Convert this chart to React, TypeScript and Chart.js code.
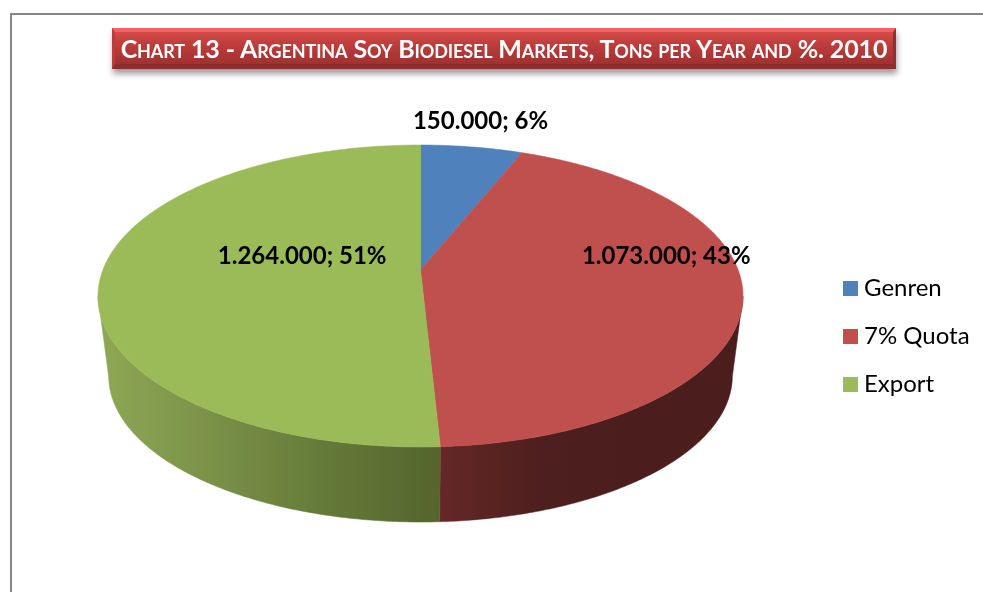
import React, { useEffect, useRef } from "react";
import { Chart, registerables } from "chart.js";

Chart.register(...registerables);

const categories = ["Genren", "7% Quota", "Export"];
const tons = [150000, 1073000, 1264000];
const sliceColors = ["#4F81BD", "#C0504D", "#9BBB59"];
const titleText = "Chart 13 - Argentina Soy Biodiesel Markets, Tons per Year and %. 2010";

// Side-wall shading, left to right, for each slice (blue is never visible from the front).
const wallStops: string[][] = [
  ["#3B618E", "#3B618E"],
  ["#652826", "#4D1F1E", "#4B1E1D", "#4B1E1D"],
  ["#8EA855", "#7A9148", "#647A39", "#55652D"],
];
// Where each value label sits, relative to the pie centre, as a share of the pie's radii.
const labelOffsets = [
  { x: 0.186, y: -1.159 },
  { x: 0.762, y: -0.265 },
  { x: -0.367, y: -0.265 },
];

const HUB_SHIFT = -26;
const WALL_DROP = 80;
const WALL_SCALE = 0.967;
const FONT = "Lato, Carlito, Calibri, sans-serif";

function geometry(chart: any, el: any) {
  const ry = el.outerRadius;
  const rx = chart.chartArea.width / 2;
  const above = ry + HUB_SHIFT;
  const below = ry - HUB_SHIFT;
  const c = (above - below) / (above + below);
  const b = above * (1 - c);
  const a = rx * Math.sqrt(1 - c * c);
  const hubX = el.x;
  const hubY = el.y + HUB_SHIFT;
  const project = (angle: number) => {
    const u = Math.cos(angle);
    const v = Math.sin(angle);
    const w = 1 + c * v;
    return { x: hubX + (a * u) / w, y: hubY + (b * v) / w };
  };
  const lower = (p: { x: number; y: number }) => ({
    x: el.x + (p.x - el.x) * WALL_SCALE,
    y: el.y + WALL_DROP + (p.y - el.y) * WALL_SCALE,
  });
  return { hubX, hubY, rx, ry, project, lower };
}

function sweep(start: number, end: number) {
  const out: number[] = [];
  const n = Math.max(2, Math.ceil((end - start) / 0.01));
  for (let i = 0; i <= n; i++) out.push(start + ((end - start) * i) / n);
  return out;
}

const pie3d = {
  id: "pie3d",
  beforeDatasetsDraw(chart: any) {
    const ctx = chart.ctx as CanvasRenderingContext2D;
    const arcs = chart.getDatasetMeta(0).data as any[];
    if (!arcs.length) return;
    const g0 = geometry(chart, arcs[0]);
    // Front-facing part of the rim: from the right silhouette round to the left one.
    const frontStart = Math.asin(0.175);
    const frontEnd = Math.PI - frontStart;
    arcs.forEach((el, i) => {
      const s = Math.max(el.startAngle, frontStart);
      const e = Math.min(el.endAngle, frontEnd);
      if (e > s) {
        const top = sweep(s, e).map(g0.project);
        const bottom = top.map(g0.lower);
        const xs = [...top, ...bottom].map((p) => p.x);
        const left = Math.min(...xs);
        const right = Math.max(...xs);
        const grad = ctx.createLinearGradient(left, 0, right, 0);
        const stops = wallStops[i];
        stops.forEach((col, k) => grad.addColorStop(k / (stops.length - 1), col));
        ctx.save();
        ctx.fillStyle = grad;
        ctx.strokeStyle = grad;
        ctx.lineWidth = 0.5;
        ctx.beginPath();
        top.forEach((p, k) => (k ? ctx.lineTo(p.x, p.y) : ctx.moveTo(p.x, p.y)));
        bottom.reverse().forEach((p) => ctx.lineTo(p.x, p.y));
        ctx.closePath();
        ctx.fill();
        ctx.stroke();
        ctx.restore();
      }
      // Each slice's top face is drawn by the element itself, in perspective.
      el.draw = function (c: CanvasRenderingContext2D) {
        const g = geometry(chart, this);
        const color = this.options.backgroundColor;
        c.save();
        c.fillStyle = color;
        c.strokeStyle = color;
        c.lineWidth = 0.5;
        c.beginPath();
        c.moveTo(g.hubX, g.hubY);
        sweep(this.startAngle, this.endAngle)
          .map(g.project)
          .forEach((p) => c.lineTo(p.x, p.y));
        c.closePath();
        c.fill();
        c.stroke();
        c.restore();
      };
    });
  },
  afterDatasetsDraw(chart: any) {
    const ctx = chart.ctx as CanvasRenderingContext2D;
    const arcs = chart.getDatasetMeta(0).data as any[];
    const total = tons.reduce((a, b) => a + b, 0);
    ctx.save();
    ctx.font = `bold 24px ${FONT}`;
    ctx.fillStyle = "#000";
    ctx.textAlign = "center";
    ctx.textBaseline = "middle";
    arcs.forEach((el, i) => {
      const g = geometry(chart, el);
      const text =
        tons[i].toLocaleString("de-DE") + "; " + Math.round((tons[i] / total) * 100) + "%";
      ctx.fillText(text, g.hubX + labelOffsets[i].x * g.rx, el.y + labelOffsets[i].y * g.ry);
    });
    ctx.restore();
  },
  afterLayout(chart: any) {
    const lg = chart.legend;
    if (!lg) return;
    lg.left = 825;
    lg.right = 983;
    lg.top = 252;
    lg.bottom = 592;
  },
};

function swatch(color: string) {
  const cv = document.createElement("canvas");
  cv.width = 15;
  cv.height = 15;
  const c = cv.getContext("2d")!;
  c.fillStyle = color;
  c.fillRect(0, 0, 15, 15);
  return cv;
}

export default function App() {
  const ref = useRef<HTMLCanvasElement>(null);
  useEffect(() => {
    const chart = new Chart(ref.current!, {
      type: "pie",
      data: {
        labels: categories,
        datasets: [{ data: tons, backgroundColor: sliceColors, borderWidth: 0 }],
      },
      options: {
        animation: false,
        responsive: false,
        layout: { padding: { left: 98, right: 240, top: 145, bottom: 145 } },
        plugins: {
          tooltip: { enabled: false },
          title: { display: false },
          legend: {
            position: "chartArea",
            align: "start",
            labels: {
              usePointStyle: true,
              pointStyleWidth: 3,
              padding: 24,
              color: "#000",
              font: { family: FONT, size: 24 },
              generateLabels: () =>
                categories.map((text, i) => ({
                  text,
                  index: i,
                  hidden: false,
                  fontColor: "#000",
                  fillStyle: sliceColors[i],
                  strokeStyle: "transparent",
                  lineWidth: 0,
                  pointStyle: swatch(sliceColors[i]),
                })),
            },
          },
        },
      } as any,
      plugins: [pie3d as any],
    });
    return () => chart.destroy();
  }, []);

  return (
    <div style={{ position: "fixed", inset: 0, overflow: "hidden", background: "#fff" }}>
      <div
        style={{
          position: "absolute",
          left: 10,
          top: 13,
          width: 1100,
          height: 800,
          border: "2px solid #868686",
          boxSizing: "border-box",
        }}
      />
      <canvas
        ref={ref}
        width={983}
        height={592}
        style={{ position: "absolute", left: 0, top: 0, width: 983, height: 592 }}
      />
      <div
        style={{
          position: "absolute",
          left: 112,
          top: 28,
          width: 784,
          height: 41,
          boxSizing: "border-box",
          background: "linear-gradient(#D64B4A, #BE3E3D 35%, #A03130)",
          borderTop: "4px solid #F06362",
          borderBottom: "5px solid #8D2E2D",
          borderLeft: "3px solid #B93D3C",
          borderRight: "3px solid #933130",
          boxShadow: "1px 5px 6px rgba(0,0,0,0.38)",
          color: "#fff",
          fontFamily: FONT,
          fontWeight: 700,
          fontSize: 25,
          letterSpacing: "-0.12px",
          fontVariant: "small-caps",
          textAlign: "center",
          lineHeight: "33px",
          whiteSpace: "nowrap",
        }}
      >
        {titleText}
      </div>
    </div>
  );
}
